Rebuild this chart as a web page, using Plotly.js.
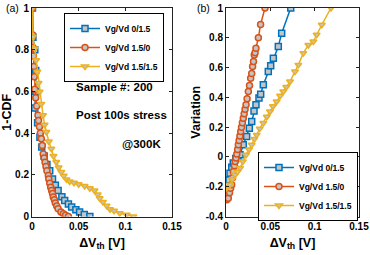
<!DOCTYPE html>
<html>
<head>
<meta charset="utf-8">
<script src="https://cdn.plot.ly/plotly-3.0.1.min.js"></script>
<style>html,body{margin:0;padding:0;background:#fff;}#chart{width:370px;height:255px;}</style>
</head>
<body>
<div id="chart"></div>
<script>
// ---- Panel (a): 1-CDF vs dVth ----
const seriesNames = ["Vg/Vd 0/1.5", "Vg/Vd 1.5/0", "Vg/Vd 1.5/1.5"];

const cdfBlueX = [0.0005,0.001,0.003,0.004,0.004,0.003,0.006,0.0085,0.0104,0.013,0.016,0.019,0.022,0.025,0.028,0.032,0.035,0.039,0.0425,0.047,0.051,0.056,0.062];
const cdfBlueY = [1.0,0.86,0.80,0.70,0.60,0.52,0.45,0.38,0.333,0.29,0.25,0.22,0.18,0.15,0.125,0.095,0.077,0.06,0.045,0.032,0.021,0.01,0.0];

const cdfOrangeX = [0.0005,0.0008,0.001,0.0015,0.002,0.0025,0.003,0.004,0.005,0.0064,0.007,0.008,0.009,0.01,0.011,0.012,0.013,0.014,0.015,0.016,0.0175,0.018,0.019,0.02,0.021,0.022,0.0228,0.024,0.025,0.0265,0.028,0.031,0.0336,0.036,0.039];
const cdfOrangeY = [1.0,0.87,0.81,0.77,0.72,0.67,0.61,0.57,0.53,0.486,0.46,0.43,0.40,0.373,0.34,0.30,0.28,0.26,0.24,0.22,0.197,0.18,0.16,0.14,0.125,0.11,0.093,0.08,0.065,0.05,0.037,0.022,0.013,0.006,0.0];

const cdfYellowX = [0.0005,0.001,0.003,0.0045,0.0057,0.007,0.0082,0.01,0.0118,0.0135,0.0154,0.018,0.0207,0.023,0.026,0.0285,0.0314,0.034,0.037,0.0404,0.045,0.05,0.0564,0.062,0.067,0.0705,0.0725,0.076,0.08,0.0836,0.0879,0.094,0.1015,0.1086];
const cdfYellowY = [1.0,0.862,0.806,0.75,0.694,0.64,0.598,0.54,0.486,0.44,0.405,0.36,0.325,0.29,0.261,0.235,0.213,0.195,0.178,0.168,0.162,0.155,0.146,0.135,0.125,0.105,0.087,0.07,0.052,0.035,0.027,0.016,0.008,0.0];

// ---- Panel (b): Variation vs dVth ----
const varBlueX = [0.0034,0.0045,0.0065,0.0082,0.011,0.0135,0.0158,0.0195,0.0233,0.0263,0.029,0.0316,0.0338,0.0372,0.0391,0.0421,0.0477,0.0504,0.0534,0.059,0.0628,0.073];
const varBlueY = [-0.155,-0.109,-0.07,-0.04,-0.01,0.0,0.014,0.081,0.137,0.193,0.238,0.309,0.35,0.395,0.421,0.484,0.573,0.613,0.663,0.741,0.83,1.0];

const varOrangeX = [0.0008,0.0026,0.004,0.0052,0.0064,0.0074,0.0083,0.0095,0.0104,0.0113,0.0122,0.0131,0.0139,0.0148,0.0157,0.0166,0.0175,0.0185,0.0195,0.0205,0.0215,0.0226,0.0238,0.0252,0.0265,0.0278,0.029,0.030,0.031,0.0319,0.0328,0.0338,0.0365,0.039,0.044];
const varOrangeY = [-0.288,-0.277,-0.24,-0.21,-0.187,-0.14,-0.098,-0.06,-0.03,-0.008,0.02,0.05,0.081,0.11,0.14,0.17,0.20,0.23,0.26,0.29,0.32,0.35,0.39,0.439,0.48,0.529,0.56,0.607,0.64,0.685,0.70,0.73,0.80,0.89,1.0];

const varYellowX = [0.0,0.002,0.0045,0.007,0.0101,0.013,0.0158,0.019,0.0226,0.026,0.029,0.032,0.0346,0.038,0.0421,0.046,0.0496,0.053,0.0571,0.061,0.0646,0.068,0.0722,0.0778,0.0816,0.0872,0.0929,0.0985,0.1022,0.108,0.1184];
const varYellowY = [-0.21,-0.2,-0.187,-0.15,-0.12,-0.1,-0.075,-0.03,0.014,0.05,0.081,0.12,0.148,0.19,0.227,0.27,0.305,0.34,0.372,0.41,0.439,0.47,0.506,0.573,0.618,0.697,0.752,0.775,0.82,0.887,1.0];

const colors = ["#0072BD", "#D95319", "#EDB120"];
const symbols = ["square", "circle", "triangle-down"];
const fillGray = "#c4c4c4";

function mk(x, y, i, xa, ya, legendName, size) {
  return {
    x: x, y: y, type: "scatter", mode: "lines+markers",
    name: seriesNames[i], xaxis: xa, yaxis: ya, legend: legendName,
    line: {color: colors[i], width: 1.5},
    marker: {symbol: symbols[i], size: size, color: fillGray,
             line: {color: colors[i], width: 1.5}}
  };
}

const data = [
  mk(cdfBlueX, cdfBlueY, 0, "x", "y", "legend", 6),
  mk(cdfOrangeX, cdfOrangeY, 1, "x", "y", "legend", 6),
  mk(cdfYellowX, cdfYellowY, 2, "x", "y", "legend", 6),
  mk(varBlueX, varBlueY, 0, "x2", "y2", "legend2", 6),
  mk(varOrangeX, varOrangeY, 1, "x2", "y2", "legend2", 6),
  mk(varYellowX, varYellowY, 2, "x2", "y2", "legend2", 6)
];

const FAM = "Liberation Sans, Arial, sans-serif";
const titleFont = {family: FAM, size: 12.5, color: "#000", weight: "bold"};
function ax(extra) {
  return Object.assign({
    showgrid: false, zeroline: false, showline: true, linecolor: "#222", linewidth: 1,
    mirror: "allticks", ticks: "inside", ticklen: 3, tickcolor: "#222",
    tickfont: {family: FAM, size: 10, color: "#000", weight: "bold"}, automargin: false
  }, extra);
}
const legFont = {family: FAM, size: 8.5, color: "#000", weight: "bold"};

const yDom = [1 - 216.5/255, 1 - 8/255];
const layout = {
  width: 370, height: 255,
  margin: {l: 0, r: 0, t: 0, b: 0},
  paper_bgcolor: "#fff", plot_bgcolor: "#fff",
  font: {family: FAM, color: "#000"},
  xaxis: ax({domain: [32/370, 172/370], range: [0, 0.15],
    tickvals: [0, 0.05, 0.1, 0.15], ticktext: ["0", "0.05", "0.1", "0.15"],
    title: {text: "ΔV<sub>th</sub> [V]", font: titleFont, standoff: 7}, anchor: "y"}),
  yaxis: ax({domain: yDom, range: [0, 1],
    tickvals: [0, 0.2, 0.4, 0.6, 0.8, 1], ticktext: ["0", "0.2", "0.4", "0.6", "0.8", "1"],
    title: {text: "1-CDF", font: titleFont, standoff: 2}, anchor: "x"}),
  xaxis2: ax({domain: [226/370, 359/370], range: [0, 0.15],
    tickvals: [0, 0.05, 0.1, 0.15], ticktext: ["0", "0.05", "0.1", "0.15"],
    title: {text: "ΔV<sub>th</sub> [V]", font: titleFont, standoff: 7}, anchor: "y2"}),
  yaxis2: ax({domain: yDom, range: [-0.4, 1],
    tickvals: [-0.4, -0.2, 0, 0.2, 0.4, 0.6, 0.8, 1], ticktext: ["-0.4", "-0.2", "0", "0.2", "0.4", "0.6", "0.8", "1"],
    title: {text: "Variation", font: titleFont, standoff: 2}, anchor: "x2"}),
  legend: {x: 64/370, y: 1 - 13/255, xanchor: "left", yanchor: "top",
    bgcolor: "#fff", bordercolor: "#000", borderwidth: 1,
    font: legFont, itemwidth: 30, tracegroupgap: 0},
  legend2: {x: 258/370, y: 1 - 152/255, xanchor: "left", yanchor: "top",
    bgcolor: "#fff", bordercolor: "#000", borderwidth: 1,
    font: legFont, itemwidth: 30, tracegroupgap: 0},
  showlegend: true,
  annotations: [
    {text: "(a)", xref: "paper", yref: "paper", x: 4/370, y: 1, xanchor: "left", yanchor: "top", showarrow: false,
     font: {family: FAM, size: 10.5, color: "#000"}},
    {text: "(b)", xref: "paper", yref: "paper", x: 195/370, y: 1, xanchor: "left", yanchor: "top", showarrow: false,
     font: {family: FAM, size: 10.5, color: "#000"}},
    {text: "Sample #: 200", xref: "paper", yref: "paper", x: 74/370, y: 1 - 87/255, xanchor: "left", yanchor: "middle", showarrow: false,
     font: {family: FAM, size: 11.5, color: "#000", weight: "bold"}},
    {text: "Post 100s stress", xref: "paper", yref: "paper", x: 74/370, y: 1 - 115/255, xanchor: "left", yanchor: "middle", showarrow: false,
     font: {family: FAM, size: 11.5, color: "#000", weight: "bold"}},
    {text: "@300K", xref: "paper", yref: "paper", x: 120/370, y: 1 - 144/255, xanchor: "left", yanchor: "middle", showarrow: false,
     font: {family: FAM, size: 11.5, color: "#000", weight: "bold"}}
  ]
};

Plotly.newPlot("chart", data, layout, {displayModeBar: false, staticPlot: true});
</script>
</body>
</html>
